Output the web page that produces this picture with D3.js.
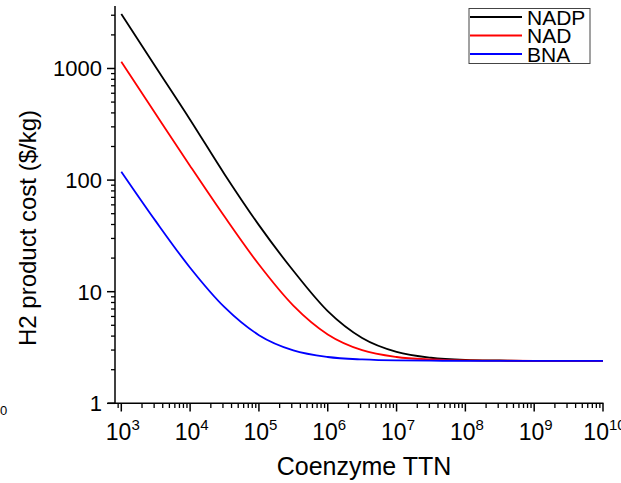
<!DOCTYPE html>
<html>
<head>
<meta charset="utf-8">
<script src="https://cdn.jsdelivr.net/npm/d3@7"></script>
<style>
  html, body { margin: 0; padding: 0; background: #fff; }
  svg { display: block; font-family: "Liberation Sans", Arial, sans-serif; }
</style>
</head>
<body>
<svg id="chart" width="621" height="483"></svg>
<script>
// ---- data ----
const ttn = [1e3, 3.162e3, 1e4, 3.162e4, 1e5, 3.162e5, 1e6, 3.162e6, 1e7, 3.162e7, 1e8, 3.162e8, 1e9, 1e10];
const nadp = [3077, 1032, 348, 113, 39.5, 15.4, 6.7, 3.85, 2.89, 2.56, 2.45, 2.42, 2.40, 2.40];
const nad  = [1150, 391, 134, 47.1, 17.5, 7.5, 4.14, 2.99, 2.60, 2.47, 2.42, 2.41, 2.40, 2.40];
const bna  = [119, 42.9, 16.4, 7.26, 4.08, 2.98, 2.60, 2.47, 2.42, 2.41, 2.40, 2.40, 2.40, 2.40];
const seriesNames = ["NADP", "NAD", "BNA"];
const seriesColors = ["#000000", "#ff0000", "#0000ff"];
const yTickValues = [1, 10, 100, 1000];
const yTickLabels = ["1", "10", "100", "1000"];
const xTickExps = [3, 4, 5, 6, 7, 8, 9, 10];
const xTitle = "Coenzyme TTN";
const yTitle = "H2 product cost ($/kg)";

const svg = d3.select("#chart");
const x = d3.scaleLog().domain([810, 1e10]).range([115, 603]);
const y = d3.scaleLog().domain([1, 3630]).range([403.3, 6]);

// minor ticks
const xMinor = [];
for (let e = 2; e <= 9; e++) for (let m = 2; m <= 9; m++) {
  const v = m * Math.pow(10, e);
  if (v >= 810 && v <= 1e10) xMinor.push(v);
}
const yMinor = [];
for (let e = 0; e <= 3; e++) for (let m = 2; m <= 9; m++) {
  const v = m * Math.pow(10, e);
  if (v <= 3630) yMinor.push(v);
}

const axisColor = "#000";
// x axis
const gx = svg.append("g");
gx.append("line").attr("x1", 108).attr("x2", 603.5).attr("y1", 403.3).attr("y2", 403.3)
  .attr("stroke", axisColor).attr("stroke-width", 1.5);
gx.selectAll(".mx").data(xMinor).enter().append("line")
  .attr("x1", d => x(d)).attr("x2", d => x(d)).attr("y1", 403.3).attr("y2", 408)
  .attr("stroke", axisColor).attr("stroke-width", 1.3);
gx.selectAll(".Mx").data(xTickExps).enter().append("line")
  .attr("x1", d => x(Math.pow(10, d))).attr("x2", d => x(Math.pow(10, d))).attr("y1", 403.3).attr("y2", 411.5)
  .attr("stroke", axisColor).attr("stroke-width", 1.5);
const xl = gx.selectAll(".xl").data(xTickExps).enter().append("text")
  .attr("x", d => x(Math.pow(10, d)) + 1.5).attr("y", 440)
  .attr("text-anchor", "middle").attr("font-size", 23).attr("fill", "#000");
xl.append("tspan").text("10");
xl.append("tspan").attr("dy", -10).attr("font-size", 15).text(d => d);

// y axis
const gy = svg.append("g");
gy.append("line").attr("x1", 115).attr("x2", 115).attr("y1", 6).attr("y2", 403.3)
  .attr("stroke", axisColor).attr("stroke-width", 1.5);
gy.selectAll(".my").data(yMinor).enter().append("line")
  .attr("x1", 111).attr("x2", 115).attr("y1", d => y(d)).attr("y2", d => y(d))
  .attr("stroke", axisColor).attr("stroke-width", 1.3);
gy.selectAll(".My").data(yTickValues).enter().append("line")
  .attr("x1", 107).attr("x2", 115).attr("y1", d => y(d)).attr("y2", d => y(d))
  .attr("stroke", axisColor).attr("stroke-width", 1.5);
gy.selectAll(".yl").data(yTickValues).enter().append("text")
  .attr("x", 102).attr("y", d => y(d) + 8)
  .attr("text-anchor", "end").attr("font-size", 22).attr("fill", "#000")
  .text((d, i) => yTickLabels[i]);

// stray clipped label
svg.append("text").attr("x", 0).attr("y", 415).attr("font-size", 13).attr("fill", "#000").text("0");

// titles
svg.append("text").attr("x", 364).attr("y", 475).attr("text-anchor", "middle")
  .attr("font-size", 25).attr("fill", "#000").text(xTitle);
svg.append("text").attr("transform", "translate(36,228) rotate(-90)").attr("text-anchor", "middle")
  .attr("font-size", 24).attr("fill", "#000").text(yTitle);

// curves
const allSeries = [nadp, nad, bna];
const line = d3.line().x(d => x(d[0])).y(d => y(d[1])).curve(d3.curveMonotoneX);
allSeries.forEach((vals, i) => {
  svg.append("path").datum(ttn.map((t, j) => [t, vals[j]]))
    .attr("d", line).attr("fill", "none")
    .attr("stroke", seriesColors[i]).attr("stroke-width", 1.8);
});

// legend
const lg = svg.append("g");
lg.append("rect").attr("x", 469).attr("y", 8.5).attr("width", 121).attr("height", 55)
  .attr("fill", "#fff").attr("stroke", "#444").attr("stroke-width", 1);
seriesNames.forEach((n, i) => {
  const ly = 17 + i * 18.5;
  lg.append("line").attr("x1", 470).attr("x2", 522).attr("y1", ly).attr("y2", ly)
    .attr("stroke", seriesColors[i]).attr("stroke-width", 1.8);
  lg.append("text").attr("x", 527).attr("y", ly + 7.5).attr("font-size", 21)
    .attr("fill", "#000").text(n);
});
</script>
</body>
</html>
